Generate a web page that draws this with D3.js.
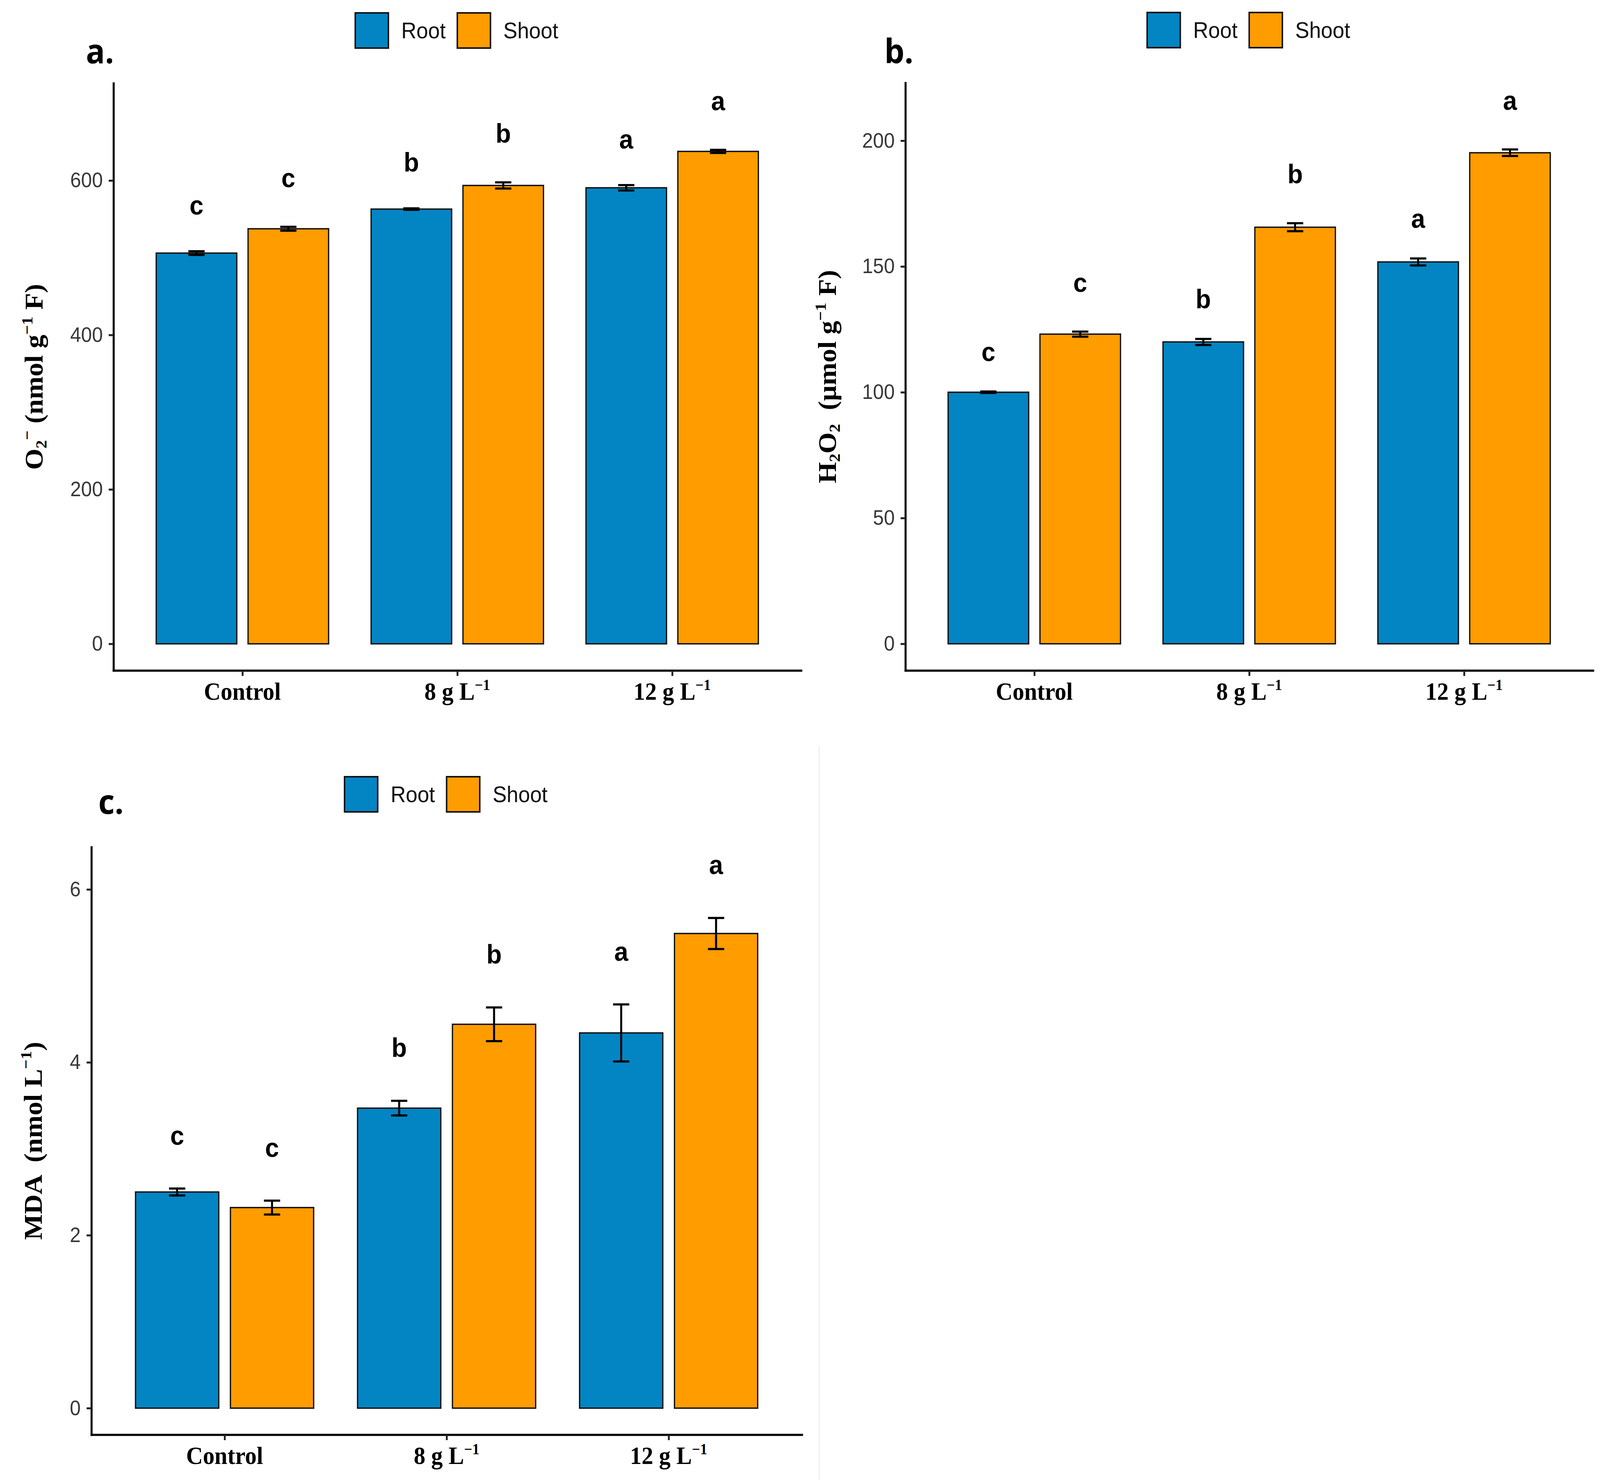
<!DOCTYPE html>
<html>
<head>
<meta charset="utf-8">
<script src="https://cdn.jsdelivr.net/npm/d3@7"></script>
<style>
  html, body { margin: 0; padding: 0; background: #fff; overflow: hidden; }
  svg { display: block; width: 100vw; height: 100vh; }
  text { white-space: pre; }
</style>
</head>
<body>
<script>
// groups and series
const groups = ['Control', '8 g L⁻¹', '12 g L⁻¹'];
const series = ['Root', 'Shoot'];
const colors = ['#0385c3', '#fe9c00'];

// a. superoxide
const o2Root = [506, 563, 590.6];
const o2RootSe = [2.4, 1.0, 3.5];
const o2Shoot = [537.5, 593.6, 637.7];
const o2ShootSe = [2.5, 4.0, 2.0];
const o2RootLetters = ['c', 'b', 'a'];
const o2ShootLetters = ['c', 'b', 'a'];

// b. hydrogen peroxide
const h2o2Root = [100, 120, 151.8];
const h2o2RootSe = [0.3, 1.2, 1.4];
const h2o2Shoot = [123.1, 165.6, 195.2];
const h2o2ShootSe = [1.0, 1.6, 1.3];
const h2o2RootLetters = ['c', 'b', 'a'];
const h2o2ShootLetters = ['c', 'b', 'a'];

// c. MDA
const mdaRoot = [2.5, 3.47, 4.34];
const mdaRootSe = [0.04, 0.085, 0.33];
const mdaShoot = [2.32, 4.44, 5.49];
const mdaShootSe = [0.08, 0.195, 0.18];
const mdaRootLetters = ['c', 'b', 'a'];
const mdaShootLetters = ['c', 'b', 'a'];

const yTicksA = [0, 200, 400, 600];
const yTicksB = [0, 50, 100, 150, 200];
const yTicksC = [0, 2, 4, 6];

const width = 4342, height = 3788;

// drawn in a 4342x3788 space and stretched onto the real window
const svg = d3.select('body')
  .append('svg')
  .attr('viewBox', '0 0 ' + width + ' ' + height)
  .attr('preserveAspectRatio', 'none')
  .style('background-color', '#fff');

// faint crop edge seen in the figure
svg.append('line')
  .attr('x1', 2223).attr('x2', 2223)
  .attr('y1', 1908).attr('y2', height)
  .attr('stroke', '#f2f2f2')
  .attr('stroke-width', 4);

// split a label into normal / subscript / superscript runs
const supMap = { '⁻': '−', '¹': '1' };
const subMap = { '₂': '2' };
function runs(str) {
  const out = [];
  for (const ch of str) {
    let mode = 'n', c = ch;
    if (supMap[ch]) { mode = 'sup'; c = supMap[ch]; }
    else if (subMap[ch]) { mode = 'sub'; c = subMap[ch]; }
    if (out.length && out[out.length - 1].mode === mode) out[out.length - 1].t += c;
    else out.push({ t: c, mode: mode });
  }
  return out;
}

function richText(textSel, str, size) {
  let cur = 0;
  runs(str).forEach(function (r) {
    const target = r.mode === 'sub' ? 0.15 * size : r.mode === 'sup' ? -0.4 * size : 0;
    textSel.append('tspan')
      .attr('dy', target - cur)
      .style('font-size', (r.mode === 'n' ? size : size * 0.62) + 'px')
      .text(r.t);
    cur = target;
  });
}

function drawPanel(p) {
  const g = svg.append('g');

  const x = d3.scalePoint().domain(groups).range([p.left, p.right]).padding(0.6);
  const step = x.step();
  const x1 = d3.scaleBand()
    .domain(series)
    .range([-0.4274 * step, 0.4274 * step])
    .paddingInner(0.123)
    .paddingOuter(0.0615);
  const y = d3.scaleLinear().domain(p.domain).range([p.bottom, p.top]);

  const rows = [];
  series.forEach(function (s, si) {
    groups.forEach(function (gr, gi) {
      rows.push({
        group: gr, series: s, si: si,
        value: p.values[si][gi], se: p.errors[si][gi], letter: p.letters[si][gi]
      });
    });
  });

  const cx = d => x(d.group) + x1(d.series) + x1.bandwidth() / 2;

  // bars
  g.selectAll('rect.bar')
    .data(rows)
    .enter()
    .append('rect')
    .attr('class', 'bar')
    .attr('x', d => x(d.group) + x1(d.series))
    .attr('y', d => y(d.value))
    .attr('width', x1.bandwidth())
    .attr('height', d => y(0) - y(d.value))
    .attr('fill', d => colors[d.si])
    .attr('stroke', '#111')
    .attr('stroke-width', 3.5);

  // error bars
  const cap = 22;
  const err = g.selectAll('g.err').data(rows).enter().append('g').attr('class', 'err')
    .attr('stroke', '#000').attr('stroke-width', 5.5);
  err.append('line')
    .attr('x1', cx).attr('x2', cx)
    .attr('y1', d => y(d.value - d.se))
    .attr('y2', d => y(d.value + d.se));
  err.append('line')
    .attr('x1', d => cx(d) - cap).attr('x2', d => cx(d) + cap)
    .attr('y1', d => y(d.value + d.se))
    .attr('y2', d => y(d.value + d.se));
  err.append('line')
    .attr('x1', d => cx(d) - cap).attr('x2', d => cx(d) + cap)
    .attr('y1', d => y(d.value - d.se))
    .attr('y2', d => y(d.value - d.se));

  // significance letters
  g.selectAll('text.letter')
    .data(rows)
    .enter()
    .append('text')
    .attr('class', 'letter')
    .attr('x', cx)
    .attr('y', d => y(d.value + d.se) - p.letterGap[d.si] + 18)
    .attr('text-anchor', 'middle')
    .style('font', 'bold 68px "Liberation Sans", Arial, sans-serif')
    .style('fill', '#000')
    .text(d => d.letter);

  // y axis
  const yAxis = g.append('g')
    .attr('transform', 'translate(' + p.left + ',0)')
    .call(d3.axisLeft(y).tickValues(p.ticks).tickFormat(d3.format('d'))
      .tickSize(13).tickSizeOuter(0).tickPadding(16));
  yAxis.select('.domain').attr('stroke', '#000').attr('stroke-width', 5.5).attr('stroke-linecap', 'square');
  yAxis.selectAll('.tick line').attr('stroke', '#222').attr('stroke-width', 5);
  yAxis.selectAll('.tick text')
    .style('font', '53px "Liberation Sans", Arial, sans-serif')
    .style('fill', '#383838');

  // x axis
  const xAxis = g.append('g')
    .attr('transform', 'translate(0,' + p.bottom + ')')
    .call(d3.axisBottom(x).tickSize(14).tickSizeOuter(0).tickFormat(''));
  xAxis.select('.domain').attr('stroke', '#000').attr('stroke-width', 5.5).attr('stroke-linecap', 'square');
  xAxis.selectAll('.tick line').attr('stroke', '#222').attr('stroke-width', 5);

  groups.forEach(function (gr) {
    const t = g.append('text')
      .attr('x', x(gr))
      .attr('y', p.bottom + 75)
      .attr('text-anchor', 'middle')
      .style('font-family', '"Liberation Serif", "Times New Roman", serif')
      .style('font-weight', 'bold')
      .style('fill', '#000');
    richText(t, gr, 63);
  });

  // y title
  const yt = g.append('text')
    .attr('transform', 'translate(' + (p.titleX + 24) + ',' + ((p.top + p.bottom) / 2) + ') rotate(-90)')
    .attr('text-anchor', 'middle')
    .style('font-family', '"Liberation Serif", "Times New Roman", serif')
    .style('font-weight', 'bold')
    .style('fill', '#000');
  richText(yt, p.title, 70);

  // panel tag
  g.append('text')
    .attr('x', p.tagX)
    .attr('y', p.tagY)
    .style('font', 'bold 86px "Open Sans", sans-serif')
    .style('fill', '#000')
    .text(p.tag);

  // legend, centred over the panel
  const lx = (p.left + p.right) / 2 - 277;
  const ly = p.top - 180;
  const offs = [0, 277];
  const leg = g.selectAll('g.leg').data(series).enter().append('g')
    .attr('transform', (d, i) => 'translate(' + (lx + offs[i]) + ',' + ly + ')');
  leg.append('rect')
    .attr('width', 90).attr('height', 90)
    .attr('fill', (d, i) => colors[i])
    .attr('stroke', '#111')
    .attr('stroke-width', 4);
  leg.append('text')
    .attr('x', 125)
    .attr('y', 65)
    .style('font', '57px "Liberation Sans", Arial, sans-serif')
    .style('fill', '#111')
    .text(d => d);
}

drawPanel({
  left: 308, right: 2174, top: 213, bottom: 1716,
  domain: [-34.5, 726], ticks: yTicksA,
  values: [o2Root, o2Shoot], errors: [o2RootSe, o2ShootSe],
  letters: [o2RootLetters, o2ShootLetters], letterGap: [112, 120],
  title: 'O₂⁻ (nmol g⁻¹ F)', titleX: 92,
  tag: 'a.', tagX: 233, tagY: 162
});

drawPanel({
  left: 2457, right: 4323, top: 212, bottom: 1716,
  domain: [-10.6, 223], ticks: yTicksB,
  values: [h2o2Root, h2o2Shoot], errors: [h2o2RootSe, h2o2ShootSe],
  letters: [h2o2RootLetters, h2o2ShootLetters], letterGap: [96, 120],
  title: 'H₂O₂  (µmol g⁻¹ F)', titleX: 2245,
  tag: 'b.', tagX: 2400, tagY: 162
});

drawPanel({
  left: 248, right: 2176, top: 2168, bottom: 3672,
  domain: [-0.307, 6.49], ticks: yTicksC,
  values: [mdaRoot, mdaShoot], errors: [mdaRootSe, mdaShootSe],
  letters: [mdaRootLetters, mdaShootLetters], letterGap: [130, 130],
  title: 'MDA  (nmol L⁻¹)', titleX: 89,
  tag: 'c.', tagX: 267, tagY: 2083
});
</script>
</body>
</html>
